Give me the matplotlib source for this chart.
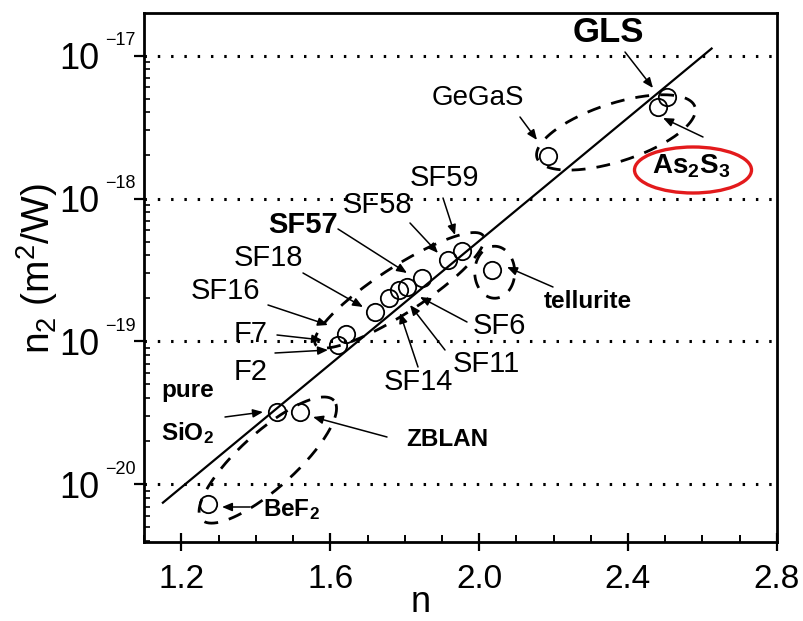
import matplotlib.pyplot as plt
import numpy as np
from matplotlib.patches import Ellipse

plt.rcParams['font.family'] = ['Liberation Sans', 'DejaVu Sans']
plt.rcParams['mathtext.fontset'] = 'custom'
plt.rcParams['mathtext.rm'] = 'Liberation Sans'
plt.rcParams['mathtext.it'] = 'Liberation Sans'
plt.rcParams['mathtext.bf'] = 'Liberation Sans:bold'
plt.rcParams['mathtext.default'] = 'regular'

# linear refractive index n and nonlinear index n2 (m^2/W) of the glasses
n_vals = [1.270, 1.456, 1.519, 1.620, 1.643, 1.721, 1.759, 1.784, 1.806,
          1.847, 1.917, 1.955, 2.036, 2.184, 2.481, 2.504]
n2_vals = [7.3e-21, 3.2e-20, 3.2e-20, 9.5e-20, 1.12e-19, 1.61e-19, 2.03e-19,
           2.28e-19, 2.40e-19, 2.80e-19, 3.69e-19, 4.27e-19, 3.15e-19,
           1.98e-18, 4.35e-18, 5.11e-18]

# trend line (Miller's rule)
fit_n = [1.15, 2.625]
fit_n2 = [7.45e-21, 1.12e-17]

# glass families: centre (n, n2), size in px, tilt
grp_n = [2.368, 1.786, 2.042, 1.432]
grp_n2 = [2.9e-18, 2.28e-19, 3.05e-19, 1.48e-20]
grp_w = [166, 200, 40, 178]
grp_h = [58, 46, 52, 56]
grp_ang = [18, 33, 0, 42]

xticks = [1.2, 1.6, 2.0, 2.4, 2.8]
yticks = [1e-20, 1e-19, 1e-18, 1e-17]
yexp = ['\u221220', '\u221219', '\u221218', '\u221217']

# labels: text, text centre px, arrow tail px, arrow head px, bold, size
labels = [
    ('GLS', (608, 33), (625, 52), (653, 88), True, 25),
    ('GeGaS', (478, 98), (520, 117), (537, 140), False, 20),
    (r'$\mathbf{As_2S_3}$', (691, 166), (703, 137), (663, 118), True, 20),
    ('SF59', (444, 178), (443, 198), (455, 235), False, 21),
    ('SF58', (378, 205), (410, 223), (438, 253), False, 21),
    ('SF57', (303, 225), (338, 229), (407, 273), True, 21),
    ('SF18', (268, 258), (303, 273), (363, 307), False, 21),
    ('SF16', (225, 291), (268, 305), (328, 325), False, 21),
    ('F7', (251, 334), (277, 335), (322, 340), False, 21),
    ('F2', (251, 372), (275, 353), (328, 350), False, 21),
    ('tellurite', (588, 302), (553, 287), (507, 267), True, 17.5),
    ('SF6', (499, 326), (467, 322), (420, 297), False, 21),
    ('SF11', (486, 364), (445, 350), (410, 305), False, 21),
    ('SF14', (418, 382), (418, 367), (400, 313), False, 21),
    ('ZBLAN', (447, 439), (387, 437), (313, 417), True, 17.5),
    (r'$\mathbf{BeF_2}$', (291, 510), (250, 507), (222, 507), True, 17.5),
    (r'$\mathbf{SiO_2}$', (187, 433), (225, 417), (263, 412), True, 17.5),
]

W, H = 804, 621
fig = plt.figure(figsize=(W / 100, H / 100), dpi=100)
ax = fig.add_axes([144.3 / W, 1 - 542.3 / H, (776.7 - 144.3) / W, (542.3 - 12.7) / H])

ax.set_yscale('log')
ax.set_xlim(1.1, 2.8)
ax.set_ylim(10 ** -20.405, 10 ** -16.70)

for y in yticks:
    ax.axhline(y, color='k', lw=2.2, ls=(0, (0.8, 3.55)), zorder=1)

ax.plot(fit_n, fit_n2, color='k', lw=1.6, zorder=2)
ax.plot(n_vals, n2_vals, 'o', ms=12.5, mfc='none', mec='k', mew=1.3, zorder=3)

# dashed loops around glass families
t = np.linspace(0, 2 * np.pi, 200)
for cx, cy, w, h, a in zip(grp_n, grp_n2, grp_w, grp_h, grp_ang):
    c = ax.transData.transform((cx, cy))
    r = np.radians(a)
    ex = w / 2 * np.cos(t)
    ey = h / 2 * np.sin(t)
    px = c[0] + ex * np.cos(r) - ey * np.sin(r)
    py = c[1] + ex * np.sin(r) + ey * np.cos(r)
    d = ax.transData.inverted().transform(np.column_stack([px, py]))
    ax.plot(d[:, 0], d[:, 1], color='k', lw=2, ls=(0, (5, 4)), zorder=2)

for s in ax.spines.values():
    s.set_linewidth(2)

ax.set_xticks(xticks)
ax.set_xticklabels([f'{v:.1f}' for v in xticks])
ax.set_xticks(np.arange(1.1, 2.81, 0.1), minor=True)
ax.tick_params(axis='x', which='major', direction='inout', length=13, width=1.6,
               labelsize=24, pad=9)
ax.tick_params(axis='x', which='minor', direction='in', length=5, width=1.4)

ax.set_yticks(yticks)
ax.set_yticklabels(['10'] * len(yticks))
ax.yaxis.set_minor_locator(plt.LogLocator(base=10, subs=np.arange(2, 10)))
ax.yaxis.set_minor_formatter(plt.NullFormatter())
ax.tick_params(axis='y', which='major', direction='out', length=7, width=1.6,
               labelsize=26, pad=25)
ax.tick_params(axis='y', which='minor', direction='in', length=4, width=1.2)
for y, e in zip(yticks, yexp):
    ax.annotate(e, xy=(0, y), xycoords=('axes fraction', 'data'),
                xytext=(-6, 10.5), textcoords='offset points',
                ha='right', va='center', fontsize=13)

fig.text(37 / W, 1 - 269 / H, r'n$_2$ (m$^2$/W)', rotation=90,
         ha='center', va='center', fontsize=28)
fig.text(421 / W, 0.5 / H, 'n', ha='center', va='bottom', fontsize=26)

for txt, tc, tail, head, bold, size in labels:
    fig.text(tc[0] / W, 1 - tc[1] / H, txt, ha='center', va='center',
             fontsize=size, fontweight='bold' if bold else 'normal')
    ax.annotate('', xy=(head[0], H - head[1]), xycoords='figure pixels',
                xytext=(tail[0], H - tail[1]), textcoords='figure pixels',
                arrowprops=dict(arrowstyle='-|>,head_length=0.6,head_width=0.25',
                                color='k', lw=1.1, shrinkA=0, shrinkB=0,
                                mutation_scale=10))
fig.text(188 / W, 1 - 391 / H, 'pure', ha='center', va='center',
         fontsize=17.5, fontweight='bold')

# red highlight around As2S3
fig.add_artist(Ellipse((693 / W, 1 - 170 / H), 117 / W, 46 / H,
                       transform=fig.transFigure, fill=False,
                       ec='#e31a1c', lw=2.4))

fig.savefig('out.png', dpi=100)
